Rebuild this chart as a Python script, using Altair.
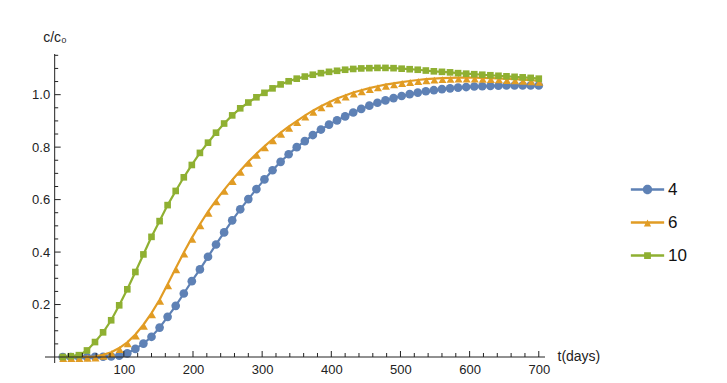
import altair as alt
import pandas as pd

# ---- data ----
days = [11.7, 23.3, 35.0, 46.7, 58.3, 70.0, 81.7, 93.3, 105.0, 116.7,
        128.3, 140.0, 151.7, 163.3, 175.0, 186.7, 198.3, 210.0, 221.7, 233.3,
        245.0, 256.7, 268.3, 280.0, 291.7, 303.3, 315.0, 326.7, 338.3, 350.0,
        361.7, 373.3, 385.0, 396.7, 408.3, 420.0, 431.7, 443.3, 455.0, 466.7,
        478.3, 490.0, 501.7, 513.3, 525.0, 536.7, 548.3, 560.0, 571.7, 583.3,
        595.0, 606.7, 618.3, 630.0, 641.7, 653.3, 665.0, 676.7, 688.3, 700.0]

c4 = [0.000, 0.000, 0.000, 0.000, 0.001, 0.001, 0.002, 0.005, 0.014, 0.031,
      0.051, 0.077, 0.112, 0.153, 0.195, 0.242, 0.289, 0.334, 0.382, 0.429,
      0.475, 0.521, 0.563, 0.602, 0.640, 0.677, 0.712, 0.744, 0.773, 0.800,
      0.823, 0.846, 0.867, 0.886, 0.902, 0.917, 0.932, 0.946, 0.958, 0.969,
      0.978, 0.987, 0.995, 1.002, 1.008, 1.013, 1.017, 1.021, 1.024, 1.027,
      1.029, 1.031, 1.032, 1.033, 1.034, 1.035, 1.035, 1.035, 1.035, 1.035]

c6 = [0.000, 0.000, 0.000, 0.001, 0.002, 0.008, 0.018, 0.034, 0.056, 0.086,
      0.123, 0.167, 0.218, 0.277, 0.338, 0.398, 0.454, 0.506, 0.554, 0.597,
      0.637, 0.675, 0.710, 0.744, 0.775, 0.803, 0.830, 0.855, 0.878, 0.899,
      0.920, 0.939, 0.956, 0.971, 0.985, 0.997, 1.008, 1.017, 1.025, 1.032,
      1.038, 1.043, 1.048, 1.052, 1.056, 1.059, 1.061, 1.063, 1.064, 1.065,
      1.065, 1.065, 1.064, 1.063, 1.062, 1.060, 1.059, 1.057, 1.055, 1.053]

c10 = [0.000, 0.003, 0.007, 0.025, 0.057, 0.094, 0.140, 0.197, 0.258, 0.324,
       0.391, 0.458, 0.518, 0.579, 0.633, 0.685, 0.732, 0.778, 0.817, 0.855,
       0.890, 0.921, 0.948, 0.970, 0.990, 1.007, 1.024, 1.039, 1.051, 1.061,
       1.069, 1.076, 1.082, 1.087, 1.091, 1.095, 1.098, 1.100, 1.101, 1.102,
       1.102, 1.101, 1.099, 1.097, 1.095, 1.092, 1.089, 1.087, 1.085, 1.082,
       1.080, 1.078, 1.076, 1.074, 1.072, 1.070, 1.068, 1.066, 1.064, 1.061]

series_names = ["4", "6", "10"]
series_colors = ["#5E81B5", "#E19C24", "#8FB032"]

x_major = [100, 200, 300, 400, 500, 600, 700]
x_minor = [20, 40, 60, 80, 120, 140, 160, 180, 220, 240, 260, 280,
           320, 340, 360, 380, 420, 440, 460, 480, 520, 540, 560, 580,
           620, 640, 660, 680]
y_major = [0.2, 0.4, 0.6, 0.8, 1.0]
y_minor = [0.05, 0.1, 0.15, 0.25, 0.3, 0.35, 0.45, 0.5, 0.55, 0.65, 0.7,
           0.75, 0.85, 0.9, 0.95, 1.05, 1.1, 1.15]

# ---- build ----
n = len(days)
df = pd.DataFrame({
    "t": days * 3,
    "c": c4 + c6 + c10,
    "series": [series_names[0]] * n + [series_names[1]] * n + [series_names[2]] * n,
})

W, H = 500, 303
AX = "#222222"
FONT = "Liberation Sans"
xs = alt.Scale(domain=[-14, 709], nice=False, zero=False)
ys = alt.Scale(domain=[0, 1.155], nice=False, zero=False)
cs = alt.Scale(domain=series_names, range=series_colors)

# legend glyphs: a line segment with the series marker on it
LINE = "M-3.7,-0.27H3.7V0.27H-3.7Z "
P4 = LINE + "M0,-1.05A1.05,1.05 0 1,1 0,1.05A1.05,1.05 0 1,1 0,-1.05Z"
P6 = LINE + "M0,-0.65L0.8,0.9L-0.8,0.9Z"
P10 = LINE + "M-0.75,-0.75H0.75V0.75H-0.75Z"
ss = alt.Scale(domain=series_names, range=[P4, P6, P10])

legend = alt.Legend(
    title=None, orient="none", legendX=594, legendY=127,
    symbolSize=81, symbolStrokeWidth=0, symbolOpacity=1,
    labelFont=FONT, labelFontSize=17, labelColor="#111111",
    labelOffset=12, rowPadding=15, padding=0,
)

x_axis = alt.Axis(
    values=x_major, format="d", ticks=False, domain=False, grid=False,
    tickSize=0, labelPadding=6, labelFont=FONT, labelFontSize=13,
    labelColor=AX, labelFlush=False,
    title="t(days)", titleX=512, titleY=-1, titleAlign="left",
    titleBaseline="middle", titleAngle=0, titleFont=FONT, titleFontSize=14,
    titleFontWeight="normal", titleColor=AX,
)
y_axis = alt.Axis(
    values=y_major, format=".1f", ticks=False, domain=False, grid=False,
    tickSize=0, labelPadding=5, offset=-9.7, labelFont=FONT, labelFontSize=13,
    labelColor=AX,
    title="c/c₀", titleX=-12, titleY=-13, titleAlign="left",
    titleBaseline="alphabetic", titleAngle=0, titleFont=FONT, titleFontSize=14,
    titleFontWeight="normal", titleColor=AX,
)


def X(field):
    return alt.X(field, scale=xs, axis=x_axis)


def Y(field):
    return alt.Y(field, scale=ys, axis=y_axis)


COLOR = alt.Color("series:N", scale=cs, legend=legend)

base = alt.Chart(df)


def line_layer(s):
    return base.transform_filter(alt.datum.series == s).mark_line(
        strokeWidth=2.2
    ).encode(x=X("t:Q"), y=Y("c:Q"), color=COLOR)


def point_layer(s, shape, size, **kw):
    return base.transform_filter(alt.datum.series == s).mark_point(
        filled=True, opacity=1, shape=shape, size=size, strokeWidth=0, **kw
    ).encode(x=X("t:Q"), y=Y("c:Q"), color=COLOR)


# empty layer that only carries the legend glyphs (line + marker)
legend_layer = base.transform_filter("datum.t < -100").mark_point(
    filled=True, opacity=1, size=81, strokeWidth=0
).encode(
    x=X("t:Q"), y=Y("c:Q"), color=COLOR,
    shape=alt.Shape("series:N", scale=ss, legend=legend),
)

xline = alt.Chart(pd.DataFrame({"c": [0]})).mark_rule(color=AX, strokeWidth=1).encode(
    y=Y("c:Q"), x=alt.value(0), x2=alt.value(W))
yline = alt.Chart(pd.DataFrame({"t": [0]})).mark_rule(color=AX, strokeWidth=1).encode(
    x=X("t:Q"), y=alt.value(0), y2=alt.value(H + 6))

xt_major = alt.Chart(pd.DataFrame({"t": x_major, "c": 0})).mark_tick(
    orient="vertical", size=6, thickness=1, yOffset=-3, color=AX, opacity=1
).encode(x=X("t:Q"), y=Y("c:Q"))
xt_minor = alt.Chart(pd.DataFrame({"t": x_minor, "c": 0})).mark_tick(
    orient="vertical", size=4, thickness=1, yOffset=-2, color=AX, opacity=1
).encode(x=X("t:Q"), y=Y("c:Q"))
yt_major = alt.Chart(pd.DataFrame({"c": y_major, "t": 0})).mark_tick(
    orient="horizontal", size=6, thickness=1, xOffset=3, color=AX, opacity=1
).encode(y=Y("c:Q"), x=X("t:Q"))
yt_minor = alt.Chart(pd.DataFrame({"c": y_minor, "t": 0})).mark_tick(
    orient="horizontal", size=3.5, thickness=1, xOffset=1.75, color=AX, opacity=1
).encode(y=Y("c:Q"), x=X("t:Q"))

chart = alt.layer(
    line_layer("4"),
    point_layer("4", "circle", 75),
    line_layer("6"),
    point_layer("6", "triangle-up", 64, yOffset=1.5, xOffset=0.5),
    line_layer("10"),
    point_layer("10", "square", 44),
    legend_layer,
    xline, yline, xt_major, xt_minor, yt_major, yt_minor,
).properties(
    width=W, height=H,
    padding={"left": 37, "top": 46, "right": 174, "bottom": 24},
    autosize=alt.AutoSizeParams(type="none"),
).configure_view(stroke=None)

chart.save("out.html", embed_options={"renderer": "svg", "actions": False})
